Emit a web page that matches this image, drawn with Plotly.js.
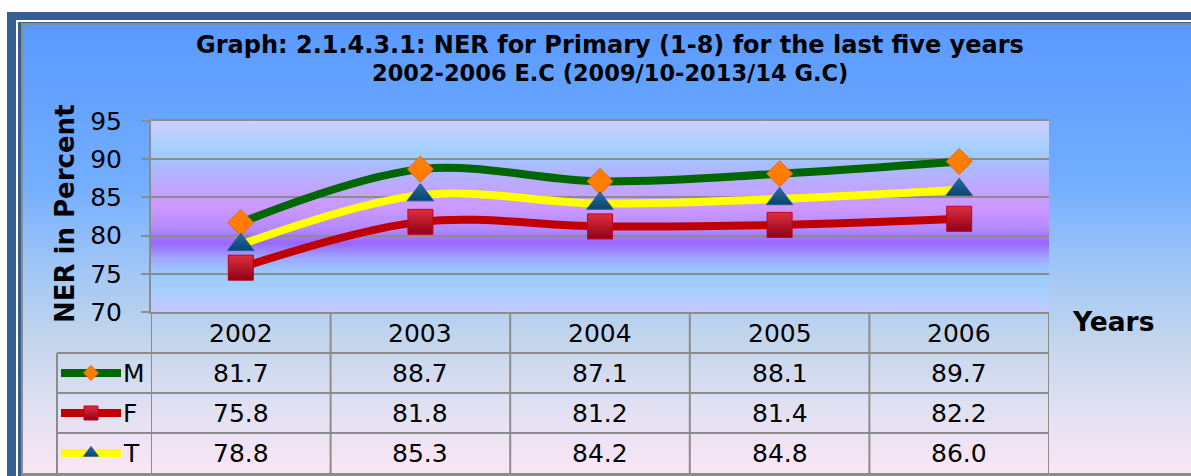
<!DOCTYPE html>
<html>
<head>
<meta charset="utf-8">
<script src="https://cdn.plot.ly/plotly-3.0.1.min.js"></script>
<style>
  body { margin: 0; padding: 0; background: #ffffff; }
  #plot { width: 1191px; height: 476px; }
</style>
</head>
<body>
<div id="plot"></div>
<script>
// data
let years = ['2002', '2003', '2004', '2005', '2006'];
let seriesNames = ['M', 'F', 'T'];
let maleNER = [81.7, 88.7, 87.1, 88.1, 89.7];
let femaleNER = [75.8, 81.8, 81.2, 81.4, 82.2];
let totalNER = [78.8, 85.3, 84.2, 84.8, 86.0];
let yTicks = [70, 75, 80, 85, 90, 95];

let titleLine1 = 'Graph: 2.1.4.3.1: NER for Primary (1-8) for the last five years';
let titleLine2 = '2002-2006 E.C (2009/10-2013/14 G.C)';

let W = 1191, H = 476;
function px(x) { return x / W; }
function py(y) { return 1 - y / H; }

let plotLeft = 151, plotRight = 1049, plotTop = 121, plotBottom = 312;
let rowTops = [353, 393, 433];
let rowH = 40;
let gridCol = '#8c8c8c';
let font = 'DejaVu Sans, Verdana, sans-serif';

let allSeries = [maleNER, femaleNER, totalNER];

let looks = [
    {line: '#006600', symbol: 'diamond', size: 20, keySize: 11.5, color: '#ff8000', grad: '#ff7a00', border: '#e46c0a'},
    {line: '#c00000', symbol: 'square', size: 25, keySize: 14, color: '#de2f3d', grad: '#8e0016', border: '#c0001c'},
    {line: '#ffff00', symbol: 'triangle-up', size: 23, keySize: 13, color: '#2a6b9c', grad: '#0a4470', border: '#1f5f8f'}
];

// background pictures (frame + gradients)
let bgSvg = '<svg xmlns="http://www.w3.org/2000/svg" width="1191" height="476" viewBox="0 0 1191 476">' +
  '<defs><linearGradient id="g" x1="0" y1="0" x2="0" y2="1">' +
  '<stop offset="0" stop-color="#5a9aff"/>' +
  '<stop offset="0.35" stop-color="#72adff"/>' +
  '<stop offset="0.55" stop-color="#a2c7f6"/>' +
  '<stop offset="0.7" stop-color="#c2d5ec"/>' +
  '<stop offset="0.85" stop-color="#e0e0f2"/>' +
  '<stop offset="1" stop-color="#fae6f6"/>' +
  '</linearGradient></defs>' +
  '<rect x="7" y="12" width="1184" height="464" fill="#365f91"/>' +
  '<rect x="16" y="20" width="1175" height="456" fill="#ffffff"/>' +
  '<rect x="18" y="22" width="1173" height="454" fill="#365f91"/>' +
  '<rect x="21" y="23" width="1170" height="453" fill="#8c8c8c"/>' +
  '<rect x="23" y="25" width="1168" height="448" fill="url(#g)"/>' +
  '</svg>';

let plotSvg = '<svg xmlns="http://www.w3.org/2000/svg" width="898" height="191" viewBox="0 0 898 191" preserveAspectRatio="none">' +
  '<defs><linearGradient id="p" x1="0" y1="0" x2="0" y2="1">' +
  '<stop offset="0" stop-color="#cfcfff"/>' +
  '<stop offset="0.15" stop-color="#a2d0ff"/>' +
  '<stop offset="0.24" stop-color="#aabbff"/>' +
  '<stop offset="0.35" stop-color="#bfa6ff"/>' +
  '<stop offset="0.45" stop-color="#cc99ff"/>' +
  '<stop offset="0.57" stop-color="#b388ff"/>' +
  '<stop offset="0.64" stop-color="#9966ff"/>' +
  '<stop offset="0.72" stop-color="#a0a8ff"/>' +
  '<stop offset="0.8" stop-color="#99ccff"/>' +
  '<stop offset="0.9" stop-color="#a8cfff"/>' +
  '<stop offset="1" stop-color="#c6c8ff"/>' +
  '</linearGradient></defs>' +
  '<rect x="0" y="0" width="898" height="191" fill="url(#p)"/>' +
  '</svg>';

function svgUrl(s) { return 'data:image/svg+xml;charset=utf-8,' + encodeURIComponent(s); }

let data = [];

for (let i = 0; i < allSeries.length; i++) {
    let lk = looks[i];
    data.push({
        x: years,
        y: allSeries[i],
        name: seriesNames[i],
        type: 'scatter',
        mode: 'lines+markers',
        line: {color: lk.line, width: 8, shape: 'spline', smoothing: 1},
        marker: {symbol: lk.symbol, size: lk.size, color: lk.color,
                 gradient: {type: 'vertical', color: lk.grad},
                 line: {color: lk.border, width: 1}},
        showlegend: false,
        hoverinfo: 'x+y+name'
    });
}

// legend keys in the table (small axes in the first column)
for (let i = 0; i < allSeries.length; i++) {
    let lk = looks[i];
    data.push({
        x: [0, 1], y: [i + 0.5, i + 0.5],
        xaxis: 'x2', yaxis: 'y2', type: 'scatter', mode: 'lines',
        line: {color: lk.line, width: 8},
        showlegend: false, hoverinfo: 'skip'
    });
    data.push({
        x: [0.5], y: [i + 0.5],
        xaxis: 'x2', yaxis: 'y2', type: 'scatter', mode: 'markers',
        marker: {symbol: lk.symbol, size: lk.keySize, color: lk.color,
                 gradient: {type: 'vertical', color: lk.grad},
                 line: {color: lk.border, width: 1}},
        showlegend: false, hoverinfo: 'skip'
    });
}

let annotations = [];

annotations.push({text: titleLine1, xref: 'paper', yref: 'paper', x: px(610), y: py(45),
    showarrow: false, xanchor: 'center', yanchor: 'middle',
    font: {family: font, size: 24, color: '#000', weight: 'bold'}});
annotations.push({text: titleLine2, xref: 'paper', yref: 'paper', x: px(610), y: py(73),
    showarrow: false, xanchor: 'center', yanchor: 'middle',
    font: {family: font, size: 22.5, color: '#000', weight: 'bold'}});
annotations.push({text: 'NER in Percent', xref: 'paper', yref: 'paper', x: px(65), y: py(214),
    showarrow: false, textangle: -90, xanchor: 'center', yanchor: 'middle',
    font: {family: font, size: 26, color: '#000', weight: 'bold'}});
annotations.push({text: 'Years', xref: 'paper', yref: 'paper', x: px(1113), y: py(321),
    showarrow: false, xanchor: 'center', yanchor: 'middle',
    font: {family: font, size: 26.5, color: '#000', weight: 'bold'}});

// header row with the years
for (let k = 0; k < years.length; k++) {
    annotations.push({text: years[k], xref: 'x', yref: 'paper', x: k, y: py(333),
        showarrow: false, xanchor: 'center', yanchor: 'middle',
        font: {family: font, size: 25, color: '#000'}});
}

// value rows
for (let i = 0; i < allSeries.length; i++) {
    let yc = py(rowTops[i] + rowH / 2);
    annotations.push({text: seriesNames[i], xref: 'paper', yref: 'paper', x: px(121), y: yc,
        showarrow: false, xanchor: 'left', yanchor: 'middle',
        font: {family: font, size: 25, color: '#000'}});
    for (let k = 0; k < years.length; k++) {
        annotations.push({text: allSeries[i][k].toFixed(1), xref: 'x', yref: 'paper', x: k, y: yc,
            showarrow: false, xanchor: 'center', yanchor: 'middle',
            font: {family: font, size: 25, color: '#000'}});
    }
}

// table grid
let shapes = [];
for (let k = 0; k <= years.length; k++) {
    shapes.push({type: 'line', xref: 'x', yref: 'paper', x0: k - 0.5, x1: k - 0.5,
        y0: py(plotBottom), y1: py(474), line: {color: gridCol, width: 2}});
}
for (let i = 0; i < rowTops.length; i++) {
    shapes.push({type: 'line', xref: 'paper', yref: 'paper', x0: px(57), x1: px(plotRight),
        y0: py(rowTops[i]), y1: py(rowTops[i]), line: {color: gridCol, width: 2}});
}
shapes.push({type: 'line', xref: 'paper', yref: 'paper', x0: px(57), x1: px(57),
    y0: py(rowTops[0]), y1: py(474), line: {color: gridCol, width: 2}});

let layout = {
    width: W,
    height: H,
    margin: {l: 0, r: 0, t: 0, b: 0, pad: 0},
    paper_bgcolor: '#ffffff',
    plot_bgcolor: 'rgba(0,0,0,0)',
    showlegend: false,
    font: {family: font, color: '#000'},
    xaxis: {
        type: 'category',
        domain: [px(plotLeft), px(plotRight)],
        range: [-0.5, 4.5],
        showgrid: false,
        showline: true, mirror: true, linecolor: gridCol, linewidth: 2,
        showticklabels: false, ticks: '',
        zeroline: false, fixedrange: true
    },
    yaxis: {
        domain: [py(plotBottom), py(plotTop)],
        range: [70, 95],
        tickvals: yTicks,
        ticktext: yTicks.map(String),
        showgrid: true, gridcolor: gridCol, gridwidth: 2,
        showline: true, linecolor: gridCol, linewidth: 2,
        ticks: 'outside', ticklen: 8, tickwidth: 2, tickcolor: gridCol,
        ticklabelstandoff: 14,
        tickfont: {family: font, size: 25, color: '#000'},
        zeroline: false, fixedrange: true
    },
    xaxis2: {domain: [px(61), px(121)], range: [0, 1], visible: false, fixedrange: true},
    yaxis2: {domain: [py(473), py(353)], range: [3, 0], visible: false, fixedrange: true},
    images: [
        {source: svgUrl(bgSvg), xref: 'paper', yref: 'paper', x: 0, y: 1, sizex: 1, sizey: 1,
         sizing: 'stretch', xanchor: 'left', yanchor: 'top', layer: 'below'},
        {source: svgUrl(plotSvg), xref: 'x', yref: 'y', x: -0.5, y: 95, sizex: 5, sizey: 25,
         sizing: 'stretch', xanchor: 'left', yanchor: 'top', layer: 'below'}
    ],
    shapes: shapes,
    annotations: annotations
};

Plotly.newPlot('plot', data, layout, {displayModeBar: false, responsive: false});
</script>
</body>
</html>
